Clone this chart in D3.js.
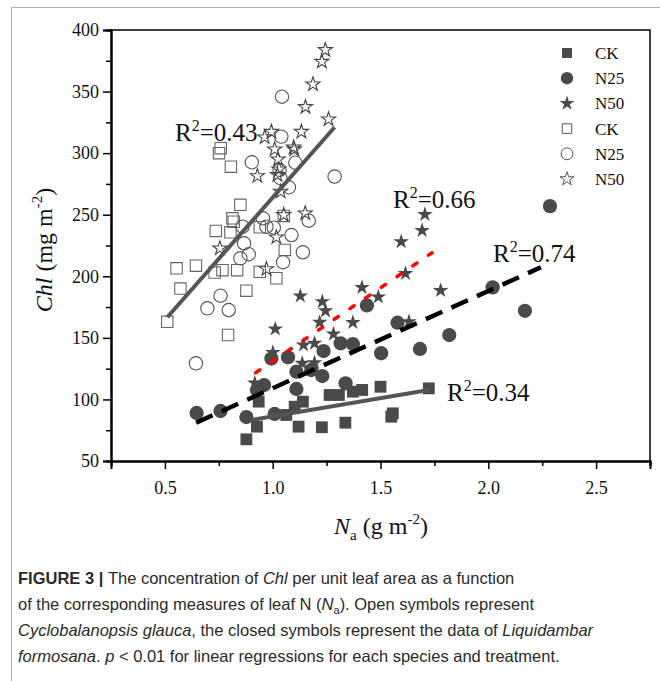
<!DOCTYPE html>
<html>
<head>
<meta charset="utf-8">
<script src="https://cdn.jsdelivr.net/npm/d3@7/dist/d3.min.js"></script>
<style>
  body { margin: 0; background: #fff; }
  svg { display: block; }
</style>
</head>
<body>
<div id="chart"></div>
<script>
// N_a (g m-2) vs Chl (mg m-2); L. formosana = filled, C. glauca = open
var lfCK = [[0.878,67.6],[0.927,77.9],[0.935,98.2],[1.063,87.4],[1.102,94.1],[1.14,98.2],
  [1.12,77.9],[1.228,77.4],[1.337,81.1],[1.264,103.6],[1.307,103.6],[1.372,106.3],
  [1.415,107.7],[1.5,110.3],[1.557,88.7],[1.55,86],[1.724,109]];
var lfN25 = [[0.647,89],[0.758,90.6],[0.878,85.7],[1.009,88.2],[0.927,107.7],[0.96,111.7],
  [0.994,133.2],[1.071,134.2],[1.11,108.5],[1.11,122.5],[1.179,123.9],[1.23,119],
  [1.236,139.3],[1.315,145.6],[1.372,145],[1.338,113.1],[1.503,137.5],[1.437,176.3],
  [1.579,162.3],[1.683,141],[1.819,152.3],[2.02,191],[2.17,172],[2.286,257]];
var lfN50 = [[0.917,113.3],[1.001,138.1],[1.012,157.2],[1.128,184],[1.137,129.3],[1.143,144.2],
  [1.194,145.6],[1.194,129.8],[1.218,162.6],[1.23,179.4],[1.245,172],[1.282,153.1],
  [1.372,162.5],[1.414,190.9],[1.49,183.2],[1.596,228.1],[1.616,202.3],[1.632,163.1],
  [1.693,237.2],[1.706,250.2],[1.779,188.5]];
var cgCK = [[0.511,163],[0.554,206.5],[0.572,190],[0.644,208.6],[0.731,203],[0.736,236.8],
  [0.751,300],[0.759,304],[0.767,205],[0.793,152.3],[0.806,289],[0.804,235.7],[0.813,247.1],
  [0.819,244.3],[0.835,205],[0.85,258],[0.878,188.3],[0.94,203.7],[0.94,239.8],
  [1.017,198.4],[1.051,249],[1.056,221.4]];
var cgN25 = [[0.644,129.3],[0.697,174],[0.758,184.2],[0.796,172.6],[0.85,214.6],[0.86,240.3],
  [0.867,226.8],[0.889,217.9],[0.903,292.6],[0.955,247.1],[0.971,240.3],[1.005,239.5],
  [1.032,286.3],[1.036,279.6],[1.04,313.4],[1.043,345.8],[1.048,211.4],[1.075,272.3],
  [1.087,233.5],[1.105,292.2],[1.14,219.5],[1.167,245.1],[1.287,281]];
var cgN50 = [[0.755,222.7],[0.929,281.4],[0.963,312.9],[0.971,205.9],[0.994,317.4],[1.009,303.1],
  [1.017,231.7],[1.022,282.3],[1.025,295],[1.029,286.9],[1.037,268.8],[1.051,249.8],
  [1.097,304.7],[1.1,303],[1.133,317.4],[1.151,251.2],[1.152,337.5],[1.187,355.9],
  [1.228,374.3],[1.244,383.8],[1.259,327.5]];

// fitted lines: [start, end] and R2 label
var fitCG = [[0.511,166.7],[1.287,321]];
var fitLfCK = [[0.9,83.3],[1.724,107.7]];
var fitLfN25 = [[0.645,81.1],[2.244,207.3]];
var fitLfN50 = [[0.921,121.7],[1.739,219.1]];
var r2Labels = ['0.43','0.34','0.74','0.66'];

var xTicks = [0.5,1.0,1.5,2.0,2.5];
var xMinor = [0.25,0.75,1.25,1.75,2.25,2.75];
var yTicks = [50,100,150,200,250,300,350,400];
var yMinor = [75,125,175,225,275,325,375];
var legendLabels = ['CK','N25','N50','CK','N25','N50'];

var W = 660, H = 681;
var serif = '"Liberation Serif", "Times New Roman", serif';
var sans = '"Liberation Sans", Arial, sans-serif';
var dark = '#4a4a4a';

var svg = d3.select('#chart')
  .append('svg')
  .attr('width', W)
  .attr('height', H);

// light frame of the figure panel
svg.append('rect')
  .attr('x', 11.5).attr('y', 7.5)
  .attr('width', 700).attr('height', 700)
  .style('fill', 'none')
  .style('stroke', '#b0b0b0')
  .style('stroke-width', 1);

var x = d3.scaleLinear().domain([0.25, 2.75]).range([111, 650]);
var y = d3.scaleLinear().domain([50, 400]).range([461, 30]);

// plot box (top, right)
svg.append('path')
  .attr('d', 'M' + x(0.25) + ',' + y(400) + 'H' + x(2.75) + 'V' + y(50))
  .style('fill', 'none')
  .style('stroke', '#000')
  .style('stroke-width', 1.5);

var xAxis = svg.append('g')
  .attr('transform', 'translate(0,' + y(50) + ')')
  .call(d3.axisBottom(x).tickValues(xTicks).tickFormat(d3.format('.1f')).tickSize(8).tickPadding(12));
var xAxisMinor = svg.append('g')
  .attr('transform', 'translate(0,' + y(50) + ')')
  .call(d3.axisBottom(x).tickValues(xMinor).tickFormat('').tickSize(5));
var yAxis = svg.append('g')
  .attr('transform', 'translate(' + x(0.25) + ',0)')
  .call(d3.axisLeft(y).tickValues(yTicks).tickSize(8).tickPadding(4));
var yAxisMinor = svg.append('g')
  .attr('transform', 'translate(' + x(0.25) + ',0)')
  .call(d3.axisLeft(y).tickValues(yMinor).tickFormat('').tickSize(5));

[xAxis, xAxisMinor, yAxis, yAxisMinor].forEach(function(g) {
  g.attr('font-family', serif).attr('font-size', 18);
  g.select('.domain').style('stroke', '#000').style('stroke-width', 2);
  g.selectAll('.tick line').style('stroke', '#000').style('stroke-width', 1.5);
  g.selectAll('text')
    .attr('font-family', serif)
    .style('font-family', serif)
    .style('font-size', '18px')
    .style('fill', '#111');
});

var sym = {
  square: d3.symbolSquare,
  circle: d3.symbolCircle,
  star: d3.symbolStar
};

function drawPoints(data, shape, size, filled, stroke) {
  svg.append('g').selectAll('path')
    .data(data)
    .enter()
    .append('path')
    .attr('d', d3.symbol().type(sym[shape]).size(size))
    .attr('transform', function(d) {
      return 'translate(' + x(d[0]) + ',' + y(d[1]) + ')';
    })
    .style('fill', filled ? dark : 'none')
    .style('stroke', filled ? 'none' : stroke)
    .style('stroke-width', 1.1);
}

drawPoints(cgCK, 'square', 130, false, '#666');
drawPoints(cgN25, 'circle', 140, false, '#555');
drawPoints(cgN50, 'star', 62, false, '#444');
drawPoints(lfCK, 'square', 140, true);
drawPoints(lfN25, 'circle', 160, true);
drawPoints(lfN50, 'star', 75, true);

var line = d3.line()
  .x(function(d) { return x(d[0]); })
  .y(function(d) { return y(d[1]); });

function drawFit(data, color, width, dash, cap) {
  svg.append('path')
    .datum(data)
    .attr('d', line)
    .style('fill', 'none')
    .style('stroke', color)
    .style('stroke-width', width)
    .style('stroke-dasharray', dash)
    .style('stroke-linecap', cap || 'butt');
}

drawFit(fitCG, '#555', 4, null);
drawFit(fitLfCK, '#555', 4, null);
drawFit(fitLfN25, '#000', 4.5, '18,10');
drawFit(fitLfN50, '#f00', 3.5, '5,14', 'round');

// R2 labels next to each fit
function r2(value, px, py) {
  var t = svg.append('text')
    .attr('x', px).attr('y', py)
    .style('font-family', serif)
    .style('font-size', '25px')
    .style('fill', '#111');
  t.append('tspan').text('R');
  t.append('tspan').attr('dy', -10).style('font-size', '16px').text('2');
  t.append('tspan').attr('dy', 10).text('=' + value);
}
r2(r2Labels[0], 175, 141);
r2(r2Labels[1], 447, 401);
r2(r2Labels[2], 493, 262);
r2(r2Labels[3], 393, 208);

// legend inside the plot
var legendShapes = ['square','circle','star','square','circle','star'];
var legendSizes = [100, 120, 70, 90, 110, 60];
var legend = svg.append('g');
legendLabels.forEach(function(label, i) {
  var ly = 53 + i * 25.2;
  var filled = i < 3;
  legend.append('path')
    .attr('d', d3.symbol().type(sym[legendShapes[i]]).size(legendSizes[i]))
    .attr('transform', 'translate(567,' + ly + ')')
    .style('fill', filled ? dark : 'none')
    .style('stroke', filled ? 'none' : '#555')
    .style('stroke-width', 1);
  legend.append('text')
    .attr('x', 595).attr('y', ly + 6)
    .attr('font-family', serif)
    .style('font-family', serif)
    .style('font-size', '17px')
    .style('fill', '#111')
    .text(label);
});

// axis titles
var xt = svg.append('text')
  .attr('x', 381).attr('y', 534)
  .attr('text-anchor', 'middle')
  .style('font-family', serif)
  .style('font-size', '24px')
  .style('fill', '#111');
xt.append('tspan').style('font-style', 'italic').text('N');
xt.append('tspan').attr('dy', 6).style('font-size', '15px').text('a');
xt.append('tspan').attr('dy', -6).text(' (g m');
xt.append('tspan').attr('dy', -10).style('font-size', '15px').text('-2');
xt.append('tspan').attr('dy', 10).text(')');

var yt = svg.append('text')
  .attr('transform', 'translate(52,250) rotate(-90)')
  .attr('text-anchor', 'middle')
  .style('font-family', serif)
  .style('font-size', '24px')
  .style('fill', '#111');
yt.append('tspan').style('font-style', 'italic').text('Chl');
yt.append('tspan').text(' (mg m');
yt.append('tspan').attr('dy', -10).style('font-size', '15px').text('-2');
yt.append('tspan').attr('dy', 10).text(')');

// caption
var captionLines = [
  [['FIGURE 3 | ', 'b'], ['The concentration of '], ['Chl', 'i'], [' per unit leaf area as a function']],
  [['of the corresponding measures of leaf N ('], ['N', 'i'], ['a', 'sub'], ['). Open symbols represent']],
  [['Cyclobalanopsis glauca', 'i'], [', the closed symbols represent the data of '], ['Liquidambar', 'i']],
  [['formosana', 'i'], ['. '], ['p', 'i'], [' < 0.01 for linear regressions for each species and treatment.']]
];
captionLines.forEach(function(parts, i) {
  var t = svg.append('text')
    .attr('x', 18).attr('y', 584 + i * 26)
    .style('font-family', sans)
    .style('font-size', '16.5px')
    .style('fill', '#2a2a2a');
  var afterSub = false;
  parts.forEach(function(p) {
    var s = t.append('tspan').text(p[0]);
    if (p[1] === 'b') s.style('font-weight', 'bold');
    if (p[1] === 'i') s.style('font-style', 'italic');
    if (p[1] === 'sub') s.attr('dy', 4).style('font-size', '11px');
    else if (afterSub) s.attr('dy', -4);
    afterSub = p[1] === 'sub';
  });
});
</script>
</body>
</html>
